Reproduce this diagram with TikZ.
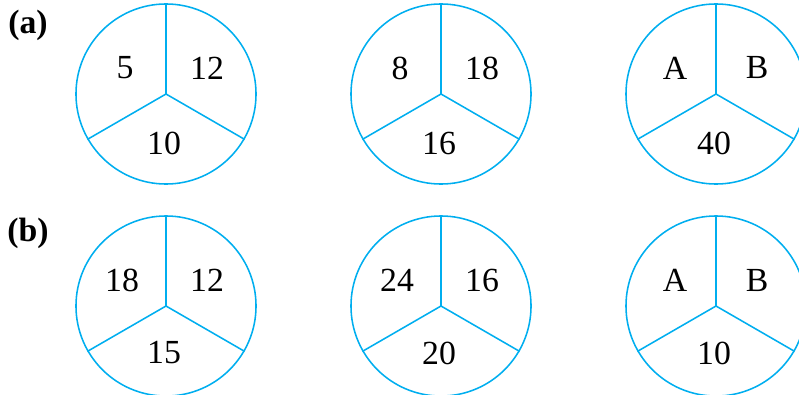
\documentclass[tikz,border=0pt]{standalone}
\usepackage{fontspec}
\setmainfont{Liberation Serif}
\definecolor{piecyan}{RGB}{0,174,239}
\begin{document}
\begin{tikzpicture}[x=0.025cm,y=-0.025cm]
    \tikzset{%
        d/.style={draw=piecyan, line width=1.1pt, circle, minimum size=4.5cm, inner sep=0pt},
        s/.style={draw=piecyan, line width=1.1pt},
        t/.style={font=\fontsize{24}{28}\selectfont, inner sep=0pt},
        p/.style={font=\fontsize{24}{28}\selectfont\bfseries, inner sep=0pt}%
        }
    \useasboundingbox (0,0) rectangle (799,394);
    \clip (0,0) rectangle (799,394);
    \node[p](la)at(28,25){(a)};
    \node[p](lb)at(28,233){(b)};
    \node[d](a1)at(166,94){};
    \node[d](a2)at(441,94){};
    \node[d](a3)at(716,94){};
    \node[d](b1)at(166,306){};
    \node[d](b2)at(441,306){};
    \node[d](b3)at(716,306){};
    \foreach \c in {a1,a2,a3,b1,b2,b3}
        \path[s] (\c.90) -- (\c.center) -- (\c.210) (\c.center) -- (\c.330);
    \node[t](a1l)at(125,68){5};
    \node[t](a1r)at(207,68){12};
    \node[t](a1b)at(164,143){10};
    \node[t](a2l)at(400,68){8};
    \node[t](a2r)at(482,68){18};
    \node[t](a2b)at(439,143){16};
    \node[t](a3l)at(675,68){A};
    \node[t](a3r)at(757,68){B};
    \node[t](a3b)at(714,143){40};
    \node[t](b1l)at(122,280){18};
    \node[t](b1r)at(207,280){12};
    \node[t](b1b)at(164,353){15};
    \node[t](b2l)at(397,280){24};
    \node[t](b2r)at(482,280){16};
    \node[t](b2b)at(439,353){20};
    \node[t](b3l)at(675,280){A};
    \node[t](b3r)at(757,280){B};
    \node[t](b3b)at(714,353){10};
\end{tikzpicture}
\end{document}
